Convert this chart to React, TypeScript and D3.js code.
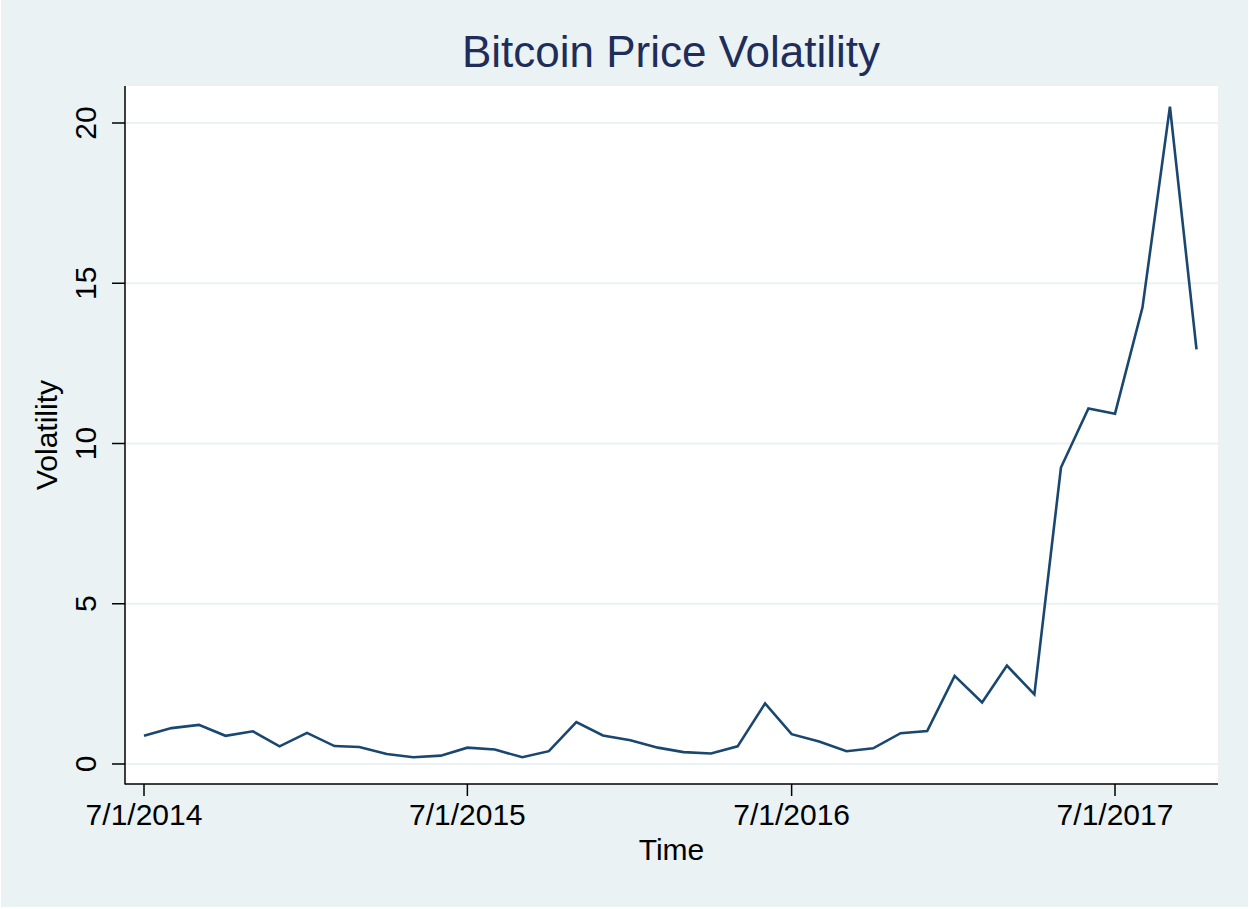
import React from "react";
import * as d3 from "d3";

// Monthly observations, 7/1/2014 .. 10/1/2017
const startMonth = "2014-07-01";
const volatility: number[] = [
  0.88, 1.12, 1.22, 0.88, 1.02, 0.55, 0.97, 0.56, 0.53, 0.31,
  0.21, 0.26, 0.51, 0.45, 0.21, 0.40, 1.31, 0.89, 0.74, 0.51,
  0.37, 0.33, 0.55, 1.89, 0.93, 0.70, 0.40, 0.49, 0.96, 1.03,
  2.75, 1.92, 3.07, 2.17, 9.25, 11.09, 10.93, 14.24, 20.51, 12.94,
];
const xTickLabels: string[] = ["7/1/2014", "7/1/2015", "7/1/2016", "7/1/2017"];
const yTicks: number[] = [0, 5, 10, 15, 20];

const W = 1249;
const H = 909;
const FONT = "Liberation Sans, Arial, Helvetica, sans-serif";
const BG = "#EAF2F3";
const LINE = "#1A476F";

const parse = d3.timeParse("%m/%d/%Y");
const start = d3.timeParse("%Y-%m-%d")(startMonth) as Date;
const dates = volatility.map((_, i) => d3.timeMonth.offset(start, i));
const data = volatility.map((v, i) => ({ date: dates[i], value: v }));
const xTickDates = xTickLabels.map((s) => parse(s) as Date);

export default function App() {
  const plotLeft = 125;
  const plotRight = 1218;
  const plotTop = 86;
  const plotBottom = 784;

  const x = d3
    .scaleTime()
    .domain([xTickDates[0], xTickDates[3]])
    .range([144, 1115]);
  const y = d3.scaleLinear().domain([0, 20]).range([764, 123]);

  const line = d3
    .line<{ date: Date; value: number }>()
    .x((d) => x(d.date))
    .y((d) => y(d.value));

  return (
    <svg
      width={W}
      height={H}
      style={{ position: "absolute", left: 0, top: 0 }}
      fontFamily={FONT}
    >
      <rect x={0} y={0} width={W} height={H} fill="#ffffff" />
      <rect x={1} y={0} width={W - 2} height={H - 2} fill={BG} />
      <rect
        x={plotLeft}
        y={plotTop}
        width={plotRight - plotLeft}
        height={plotBottom - plotTop}
        fill="#ffffff"
      />
      {/* gridlines */}
      {yTicks.map((t) => (
        <line
          key={"g" + t}
          x1={plotLeft}
          x2={plotRight}
          y1={y(t)}
          y2={y(t)}
          stroke={BG}
          strokeWidth={2}
        />
      ))}
      {/* data line */}
      <path
        d={line(data) || ""}
        fill="none"
        stroke={LINE}
        strokeWidth={2.6}
        strokeLinejoin="miter"
      />
      {/* axes */}
      <line x1={plotLeft} x2={plotLeft} y1={plotTop} y2={plotBottom + 0.5} stroke="#000" strokeWidth={1.5} />
      <line x1={plotLeft} x2={plotRight} y1={plotBottom} y2={plotBottom} stroke="#000" strokeWidth={1.5} />
      {yTicks.map((t) => (
        <g key={"y" + t}>
          <line x1={112} x2={plotLeft} y1={y(t)} y2={y(t)} stroke="#000" strokeWidth={1.5} />
          <text
            transform={`translate(96,${y(t)}) rotate(-90)`}
            textAnchor="middle"
            fontSize={30}
            fill="#000"
          >
            {t}
          </text>
        </g>
      ))}
      {xTickDates.map((d, i) => (
        <g key={"x" + i}>
          <line x1={x(d)} x2={x(d)} y1={plotBottom} y2={796} stroke="#000" strokeWidth={1.5} />
          <text x={x(d)} y={825} textAnchor="middle" fontSize={30} fill="#000">
            {xTickLabels[i]}
          </text>
        </g>
      ))}
      {/* axis titles */}
      <text x={(plotLeft + plotRight) / 2} y={860} textAnchor="middle" fontSize={30} fill="#000">
        Time
      </text>
      <text
        transform={`translate(57,${(plotTop + plotBottom) / 2}) rotate(-90)`}
        textAnchor="middle"
        fontSize={30}
        fill="#000"
      >
        Volatility
      </text>
      {/* title */}
      <text x={(plotLeft + plotRight) / 2 - 0.5} y={67} textAnchor="middle" fontSize={44} fill="#1E2D5A">
        Bitcoin Price Volatility
      </text>
    </svg>
  );
}
